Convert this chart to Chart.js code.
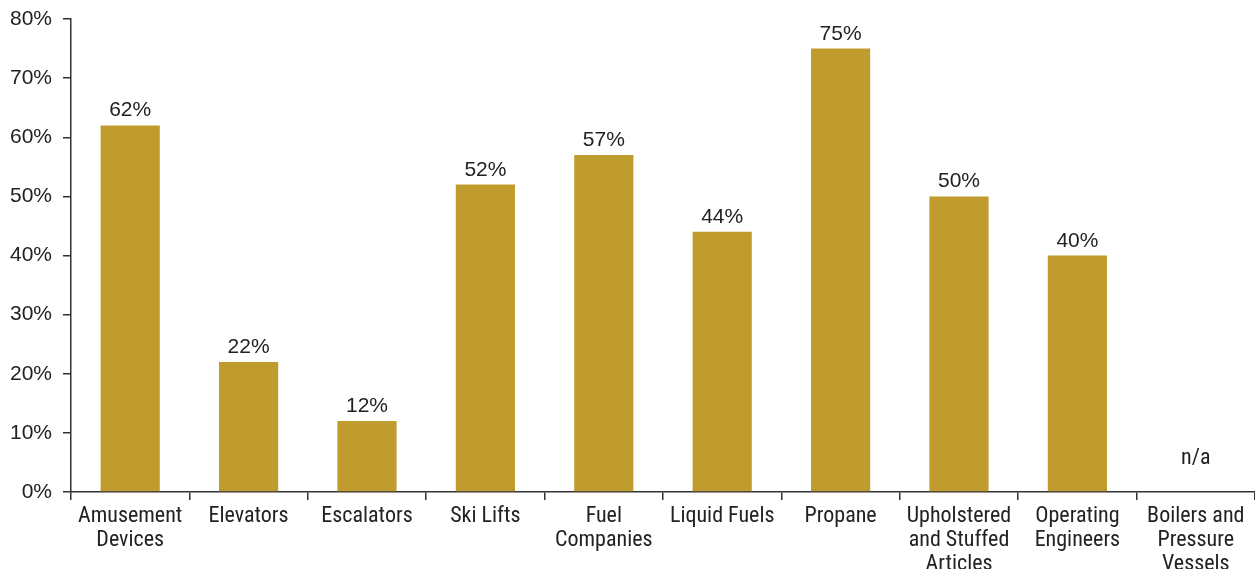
<!DOCTYPE html>
<html>
<head>
<meta charset="utf-8">
<script src="https://cdn.jsdelivr.net/npm/chart.js@4/dist/chart.umd.min.js"></script>
<style>
  html, body { margin: 0; padding: 0; background: #fff; }
  #wrap { width: 1255px; height: 569px; position: relative; }
</style>
</head>
<body>
<div id="wrap"><canvas id="chart"></canvas></div>
<script>
// Share of inspections per program
const categories = [
  ['Amusement', 'Devices'],
  ['Elevators'],
  ['Escalators'],
  ['Ski Lifts'],
  ['Fuel', 'Companies'],
  ['Liquid Fuels'],
  ['Propane'],
  ['Upholstered', 'and Stuffed', 'Articles'],
  ['Operating', 'Engineers'],
  ['Boilers and', 'Pressure', 'Vessels']
];
const shares = [62, 22, 12, 52, 57, 44, 75, 50, 40, null];
const yTicks = [0, 10, 20, 30, 40, 50, 60, 70, 80];

const GOLD = '#BF9C2D';
const INK = '#222';
const NARROW = '"Roboto Condensed", "Liberation Sans", sans-serif';
const SANS = '"Liberation Sans", Arial, sans-serif';

// writes the value above each bar, or "n/a" where there is no value
const valueLabels = {
  id: 'valueLabels',
  afterDatasetsDraw(chart) {
    const ctx = chart.ctx;
    const meta = chart.getDatasetMeta(0);
    const y = chart.scales.y;
    ctx.save();
    ctx.fillStyle = INK;
    ctx.textAlign = 'center';
    ctx.textBaseline = 'alphabetic';
    meta.data.forEach((bar, i) => {
      const v = shares[i];
      if (v == null) {
        ctx.font = '22px ' + NARROW;
        ctx.fillText('n/a', bar.x, y.getPixelForValue(0) - 28);
      } else {
        ctx.font = '21px ' + SANS;
        ctx.fillText(v + '%', bar.x, bar.y - 9);
      }
    });
    ctx.restore();
  }
};

new Chart(document.getElementById('chart'), {
  type: 'bar',
  data: {
    labels: categories,
    datasets: [{
      data: shares,
      backgroundColor: GOLD,
      barPercentage: 0.5,
      categoryPercentage: 1.0
    }]
  },
  options: {
    responsive: true,
    maintainAspectRatio: false,
    animation: false,
    layout: { padding: { top: 19, right: 0, left: 0, bottom: 0 } },
    plugins: {
      legend: { display: false },
      tooltip: { enabled: false }
    },
    scales: {
      x: {
        grid: {
          offset: true,
          drawOnChartArea: false,
          drawTicks: true,
          tickLength: 8,
          color: '#333',
          lineWidth: 1.5
        },
        border: { display: true, color: '#333', width: 1.5 },
        ticks: {
          color: INK,
          font: { family: NARROW, size: 22, lineHeight: 1.1 },
          maxRotation: 0,
          autoSkip: false,
          padding: 4
        },
        afterFit(scale) { scale.height = 77; }
      },
      y: {
        min: 0,
        max: 80,
        afterBuildTicks(scale) {
          scale.ticks = yTicks.map(v => ({ value: v }));
        },
        grid: {
          drawOnChartArea: false,
          drawTicks: true,
          tickLength: 8,
          color: '#333',
          lineWidth: 1.5
        },
        border: { display: true, color: '#333', width: 1.5 },
        ticks: {
          color: INK,
          font: { family: SANS, size: 21 },
          padding: 11,
          callback: v => v + '%'
        },
        afterFit(scale) {
          scale.width = 71;
          scale.paddingTop = 0;
        }
      }
    }
  },
  plugins: [valueLabels]
});
</script>
</body>
</html>
